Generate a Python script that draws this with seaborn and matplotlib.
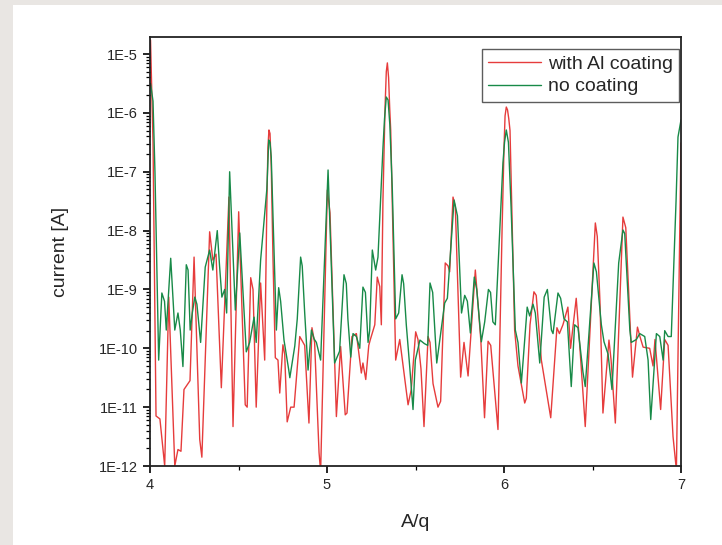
import numpy as np
import pandas as pd
import matplotlib
matplotlib.use("Agg")
import matplotlib.pyplot as plt
from matplotlib.ticker import FixedLocator, FuncFormatter, LogLocator, NullFormatter, MultipleLocator
from matplotlib.patches import Rectangle
import seaborn as sns

# A/q positions and log10(current), "with Al coating"
al_x = [4.003, 4.017, 4.034, 4.056, 4.083, 4.106, 4.140, 4.158, 4.175, 4.192,
        4.215, 4.226, 4.249, 4.281, 4.293, 4.337, 4.355, 4.373, 4.403, 4.446,
        4.469, 4.501, 4.538, 4.549, 4.569, 4.582, 4.600, 4.625, 4.648, 4.660,
        4.666, 4.672, 4.678, 4.685, 4.695, 4.708, 4.723, 4.733, 4.751, 4.761,
        4.775, 4.795, 4.814, 4.846, 4.874, 4.898, 4.915, 4.930, 4.955, 4.964,
        5.002, 5.017, 5.053, 5.077, 5.103, 5.113, 5.141, 5.166, 5.194, 5.203,
        5.219, 5.236, 5.245, 5.270, 5.284, 5.298, 5.307, 5.316, 5.328, 5.335,
        5.341, 5.348, 5.354, 5.360, 5.388, 5.411, 5.458, 5.476, 5.501, 5.514,
        5.531, 5.548, 5.571, 5.582, 5.599, 5.627, 5.642, 5.668, 5.684, 5.693,
        5.712, 5.725, 5.755, 5.774, 5.797, 5.838, 5.869, 5.890, 5.910, 5.925,
        5.966, 5.989, 6.000, 6.006, 6.013, 6.020, 6.027, 6.034, 6.060, 6.079,
        6.117, 6.126, 6.147, 6.169, 6.182, 6.211, 6.264, 6.299, 6.313, 6.333,
        6.361, 6.376, 6.408, 6.429, 6.459, 6.516, 6.527, 6.542, 6.559, 6.593,
        6.605, 6.629, 6.672, 6.688, 6.726, 6.754, 6.768, 6.786, 6.823, 6.842,
        6.853, 6.885, 6.908, 6.927, 6.955, 6.974, 7.000]
al_log = [-4.76, -6.5, -11.15, -11.2, -12.0, -9.13, -12.0, -11.72, -11.75, -10.7,
          -10.6, -10.55, -8.45, -11.55, -11.85, -8.02, -8.5, -8.4, -10.67, -7.43,
          -11.33, -7.68, -10.96, -11.0, -8.8, -9.0, -11.0, -8.89, -10.2, -7.6,
          -6.6, -6.29, -6.35, -6.9, -8.5, -10.16, -10.2, -10.76, -9.94, -10.1,
          -11.25, -11.0, -11.0, -9.8, -9.95, -11.27, -9.65, -9.9, -11.77, -12.1,
          -7.31, -7.7, -11.16, -9.97, -11.13, -11.1, -9.8, -9.75, -10.42, -10.25,
          -10.53, -9.95, -9.85, -9.6, -8.79, -8.95, -9.6, -7.5, -5.9, -5.3,
          -5.15, -5.4, -5.9, -6.3, -10.2, -9.85, -10.96, -10.7, -9.72, -9.85,
          -10.35, -11.33, -9.8, -9.9, -10.6, -11.0, -10.9, -8.55, -8.6, -8.7,
          -7.43, -7.6, -10.49, -9.9, -10.47, -8.67, -9.86, -11.18, -9.88, -9.95,
          -11.38, -8.0, -6.6, -6.05, -5.9, -5.95, -6.1, -6.3, -9.69, -10.3,
          -10.93, -10.85, -9.6, -9.04, -9.1, -10.2, -11.18, -9.65, -9.75, -9.6,
          -9.3, -10.0, -9.15, -10.0, -11.33, -7.87, -8.1, -9.2, -11.1, -9.86,
          -10.2, -11.27, -7.77, -7.95, -10.49, -9.64, -9.8, -9.98, -10.0, -10.3,
          -9.85, -11.04, -9.85, -9.95, -11.5, -12.07, -6.51]

# "no coating"
nc_x = [4.003, 4.017, 4.028, 4.049, 4.067, 4.082, 4.092, 4.117, 4.140, 4.158,
        4.171, 4.186, 4.205, 4.215, 4.227, 4.239, 4.253, 4.265, 4.286, 4.312,
        4.337, 4.355, 4.380, 4.393, 4.406, 4.422, 4.433, 4.450, 4.482, 4.507,
        4.544, 4.563, 4.588, 4.600, 4.625, 4.660, 4.671, 4.678, 4.685, 4.714,
        4.727, 4.738, 4.757, 4.784, 4.790, 4.818, 4.832, 4.851, 4.860, 4.874,
        4.893, 4.912, 4.927, 4.940, 4.964, 5.006, 5.043, 5.071, 5.096, 5.109,
        5.118, 5.134, 5.147, 5.166, 5.185, 5.203, 5.217, 5.232, 5.241, 5.256,
        5.275, 5.288, 5.316, 5.325, 5.335, 5.345, 5.355, 5.369, 5.388, 5.405,
        5.424, 5.433, 5.448, 5.467, 5.486, 5.499, 5.525, 5.550, 5.569, 5.582,
        5.597, 5.620, 5.665, 5.680, 5.718, 5.737, 5.760, 5.778, 5.793, 5.810,
        5.832, 5.846, 5.872, 5.891, 5.912, 5.924, 5.937, 5.951, 5.994, 6.003,
        6.013, 6.025, 6.040, 6.064, 6.079, 6.098, 6.107, 6.131, 6.145, 6.164,
        6.177, 6.202, 6.227, 6.245, 6.268, 6.277, 6.305, 6.320, 6.339, 6.358,
        6.380, 6.399, 6.418, 6.446, 6.459, 6.508, 6.522, 6.550, 6.565, 6.588,
        6.610, 6.648, 6.672, 6.682, 6.711, 6.719, 6.748, 6.767, 6.795, 6.814,
        6.829, 6.861, 6.880, 6.899, 6.908, 6.927, 6.945, 6.972, 6.983, 7.000]
nc_log = [-5.5, -5.8, -7.0, -10.2, -9.06, -9.2, -9.69, -8.47, -9.69, -9.4,
          -9.69, -10.31, -8.58, -8.67, -9.69, -9.4, -9.13, -9.25, -9.9, -8.62,
          -8.33, -8.67, -8.0, -8.6, -9.13, -9.0, -9.4, -7.0, -9.35, -8.04,
          -10.06, -9.9, -9.47, -9.9, -8.5, -7.3, -6.46, -6.5, -6.75, -9.69,
          -8.97, -9.2, -9.86, -10.37, -10.5, -9.96, -9.5, -8.45, -8.6, -9.4,
          -10.37, -9.69, -9.84, -9.9, -10.2, -6.97, -10.25, -10.05, -8.75, -8.9,
          -9.5, -10.15, -9.75, -9.8, -10.0, -8.96, -9.05, -9.9, -9.7, -8.33,
          -8.67, -8.45, -6.6, -6.1, -5.73, -5.78, -6.2, -7.3, -9.5, -9.4,
          -8.75, -8.9, -9.6, -10.3, -11.04, -10.2, -9.86, -9.92, -9.95, -8.89,
          -9.05, -10.25, -9.23, -9.15, -7.48, -7.75, -9.4, -9.1, -9.2, -9.74,
          -8.79, -9.0, -9.89, -9.55, -9.0, -9.05, -9.55, -9.6, -6.85, -6.5,
          -6.29, -6.5, -7.6, -9.69, -9.9, -10.59, -10.25, -9.3, -9.45, -9.25,
          -9.4, -10.25, -9.13, -9.0, -9.69, -9.75, -9.06, -9.15, -9.5, -9.55,
          -10.65, -9.6, -9.65, -10.4, -10.65, -8.55, -8.7, -9.6, -9.89, -10.1,
          -10.7, -8.55, -7.99, -8.05, -9.69, -9.9, -9.85, -9.75, -9.8, -10.2,
          -11.21, -9.75, -9.8, -10.2, -9.7, -9.8, -9.8, -7.5, -6.41, -6.12]

labels = ["with Al coating", "no coating"]
colors = ["#e63c3c", "#188a48"]

df = pd.concat([
    pd.DataFrame({"A/q": al_x, "current": 10.0 ** np.array(al_log), "sample": labels[0]}),
    pd.DataFrame({"A/q": nc_x, "current": 10.0 ** np.array(nc_log), "sample": labels[1]}),
])

sns.set_style("ticks")
plt.rcParams["font.family"] = ["Liberation Sans", "DejaVu Sans"]

fig = plt.figure(figsize=(7.22, 5.45), dpi=100)
fig.patch.set_facecolor("#e9e6e3")
# white panel behind the chart (the frame of the original picture)
bg = fig.add_axes([13 / 722, 0, 1, 540 / 545], zorder=-5)
bg.set_axis_off()
bg.add_patch(Rectangle((0, 0), 1, 1, transform=bg.transAxes, facecolor="white", edgecolor="none"))

ax = fig.add_axes([150 / 722, 1 - 466 / 545, 531 / 722, 429 / 545])

sns.lineplot(data=df, x="A/q", y="current", hue="sample", palette=colors,
             estimator=None, sort=True, linewidth=1.0, ax=ax)

ax.set_yscale("log")
ax.set_ylim(1e-12, 1.95e-5)
ax.set_xlim(4, 7)

ax.yaxis.set_major_locator(FixedLocator([10.0 ** k for k in range(-12, -4)]))
ax.yaxis.set_major_formatter(FuncFormatter(lambda v, p: "1E%d" % round(np.log10(v))))
ax.yaxis.set_minor_locator(LogLocator(base=10, subs=np.arange(2, 10), numticks=20))
ax.yaxis.set_minor_formatter(NullFormatter())
ax.xaxis.set_major_locator(MultipleLocator(1))
ax.xaxis.set_minor_locator(MultipleLocator(0.5))

ax.tick_params(which="major", length=5, width=1.2, labelsize=10.5, color="black")
ax.tick_params(which="minor", length=3, width=0.9, color="black")
for s in ax.spines.values():
    s.set_linewidth(1.3)
    s.set_color("#222222")

ax.set_xlabel("A/q", fontsize=14, labelpad=16)
ax.set_ylabel("current [A]", fontsize=14, labelpad=22)

leg = ax.legend(loc="upper right", bbox_to_anchor=(0.996, 0.972), fontsize=14,
                frameon=True, fancybox=False, handlelength=2.7, handletextpad=0.35,
                borderpad=0.32, labelspacing=0.25, borderaxespad=0.0)
leg.set_title(None)
leg.get_frame().set_edgecolor("#333333")
leg.get_frame().set_linewidth(1.0)

fig.savefig("out.png", dpi=100, facecolor=fig.get_facecolor())
